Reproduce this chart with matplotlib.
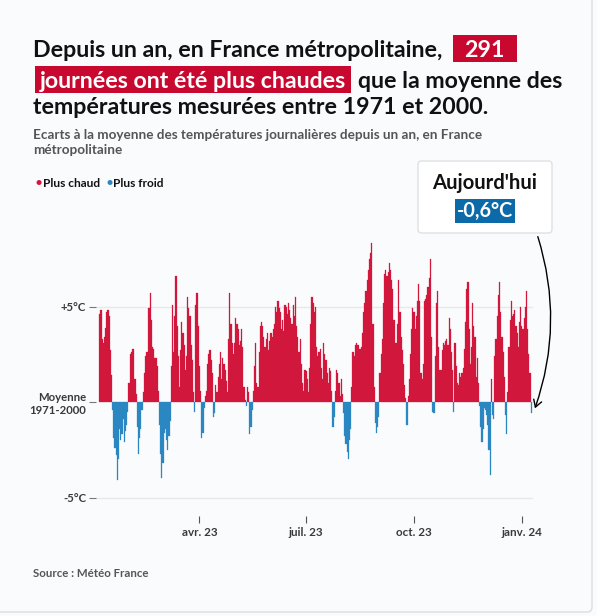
import pandas as pd
import matplotlib.pyplot as plt
import matplotlib.dates as mdates
from matplotlib.patches import FancyBboxPatch, FancyArrowPatch, Rectangle

# daily anomalies (degC vs 1971-2000 mean), in date order
janFeb = [4.6, 4.8, 3.3, 3.1, 3.4, 3.9, 4.7, 4.8, 4.5, 2.7, 1.4,
          -0.4, -1.9, -2.4, -2.8, -4.1, -3.0, -1.4, -2.0, -1.7, -0.9, -2.1, -1.5, -1.2, -0.5,
          1.0, 2.5, 2.6, 2.8, 2.8, 1.2, 0.4,
          -1.3, -2.7, -1.9, -1.4, -0.4,
          0.5, 1.5, 2.4, 2.6, 2.6, 4.9, 5.7, 4.3, 2.9, 2.8, 2.3, 2.3, 1.9, 0.6,
          -1.2, -2.7, -4.0, -3.2, -1.6, -1.4, -2.0, -2.5, -1.8, -1.0]
marMay = [1.9, 5.1, 2.6, 4.5, 6.6, 4.0, 2.4, 0.8, 2.7, 4.2, 3.6, 3.0, 1.7, 2.4, 5.5, 4.9,
          4.5, 3.0, 2.2, 0.5, -0.5, 5.1, 5.7, 4.0, 1.9, 0.6, -1.9, -1.6, -0.3, 0.3, 0.6,
          2.0, 2.5, 2.7, 2.2, 1.5, -0.8, -0.6, 0.9, 0.5, 1.3, 2.0, 2.6, 1.2, 2.3, 2.0, 1.7,
          1.1, 0.5, 3.3, 5.7, 4.1, 3.1, 2.5, 3.1, 4.4, 4.1, 3.8, 3.0, 3.2, 3.8, 2.9]
mayJul = [0.8, 0.1, -0.2, 0.8, 0.5, -1.7, -1.3, -0.4, 0.6, 1.9, 3.1, 1.0, 0.8, 2.6, 4.0,
          4.2, 4.0, 3.4, 2.9, 3.3, 3.6, 2.7, 3.2, 3.6, 3.4, 3.8, 4.1, 5.0, 4.7, 5.3, 4.9,
          4.7, 3.8, 4.3, 3.7, 5.1, 5.0, 4.6, 5.2, 4.8, 4.4, 4.1, 5.1, 4.5, 5.5, 4.0, 3.4,
          2.6, 3.3, 2.0, 1.0, 0.6, 1.7, 1.6, 1.2, 0.5, 1.8, 4.1, 5.5, 5.2, 4.7, 5.0]
julSep = [2.9, 2.4, 2.6, 2.8, 1.8, 1.2, 3.1, 2.5, 2.2, 1.5, 1.0, 1.8, 1.6, 0.6, -1.3,
          -0.8, 0.6, 1.7, 1.5, 1.0, 0.3, 1.2, 0.4, -0.6, -1.8, -2.2, -2.6, -3.0, -2.0,
          -1.4, 0.8, 2.6, 2.4, 3.0, 3.1, 3.0, 3.0, 2.8, 2.9, 3.6, 4.7, 5.2, 5.8, 6.4, 6.9,
          7.5, 7.8, 8.3, 4.1, 0.8, -1.1, -1.6, -1.3, -0.8, 1.5, 2.5, 3.3, 5.2, 6.7, 6.9,
          6.6, 6.8]
sepNov = [7.3, 6.9, 6.4, 5.9, 4.3, 3.1, 3.1, 4.1, 6.4, 4.7, 3.4, 2.7, 2.0, 0.9, 0.2,
          -1.2, 0.3, 1.2, 2.5, 3.8, 4.9, 4.7, 3.8, 4.5, 5.3, 6.2, 5.3, 1.5, 1.2, 2.0, 5.3,
          5.4, 5.6, 6.0, 6.5, 7.5, 3.4, -0.5, -0.6, 2.4, 5.2, 5.8, 2.9, 1.7, 1.7, 2.7, 3.1,
          3.0, 3.2, 3.3, 3.0, 4.4, 3.8, 2.6, 1.7, -0.5, 3.1, 1.9, 1.0, 0.9, 1.5, 1.3]
novJan = [1.5, 1.8, 2.8, 4.2, 5.9, 6.3, 3.8, 2.0, 2.9, 5.2, 4.0, 3.4, 1.3, 2.3, 1.0,
          -0.2, -1.3, -2.1, -1.4, -0.3, -0.4, -0.7, -1.2, -2.5, -3.8, 1.2, -0.7, -0.9,
          2.4, 3.3, 4.5, 5.6, 6.3, 4.7, 3.4, 2.6, 1.3, -0.7, -1.7, 0.5, 2.9, 4.3, 5.3,
          4.5, 4.6, 4.8, 4.0, 3.6, 2.9, 4.2, 5.0, 4.0, 3.8, 4.4, 5.0, 5.8, 3.8, 2.5, 1.5,
          -0.6]

lastDay = "2024-01-09"
tickDates = ["2023-04-01", "2023-07-01", "2023-10-01", "2024-01-01"]
tickNames = ["avr. 23", "juil. 23", "oct. 23", "janv. 24"]
yTicks = [5, 0, -5]
yNames = ["+5°C", "Moyenne\n1971-2000", "-5°C"]

RED = "#d2173d"
HILITE = "#c8082f"
BLUE = "#2a87c1"
BOXBLUE = "#0b6aa7"
GREY = "#555555"
BG = "#fafbfd"
W, H = 597, 616


def px(x, y):
    # pixel position (from top-left) to figure fraction
    return x / W, 1 - y / H


def fitSize(fig, r, txt, target, base=10):
    # font size so that txt is about target px wide
    t = fig.text(0, 0, txt, fontsize=base, fontweight="bold")
    w = t.get_window_extent(renderer=r).width
    t.remove()
    return base * target / w


def main():
    vals = janFeb + marMay + mayJul + julSep + sepNov + novJan
    days = pd.date_range(end=lastDay, periods=len(vals), freq="D")
    s = pd.Series(vals, index=days)

    plt.rcParams['font.family'] = ['Lato', 'DejaVu Sans']
    fig = plt.figure(figsize=(W / 100, H / 100), dpi=100, facecolor=BG)
    r = fig.canvas.get_renderer()

    # card outline
    fig.patches.append(FancyBboxPatch(px(-20, 612), (592 + 20) / W, (612 + 20) / H,
                                      boxstyle="round,pad=0,rounding_size=0.008",
                                      transform=fig.transFigure, fc=BG, ec="#dcdde3",
                                      lw=1, zorder=-5))

    left, right, top, bottom = 96, 533, 230, 516
    ax = fig.add_axes([left / W, 1 - bottom / H, (right - left) / W, (bottom - top) / H])
    ax.set_facecolor("none")

    colors = [RED if v > 0 else BLUE for v in s.values]
    ax.bar(s.index, s.values, width=1.0, color=colors, edgecolor=colors,
           linewidth=0.2, zorder=3)

    x0 = mdates.date2num(s.index[0]) - 3.2
    x1 = mdates.date2num(s.index[-1]) + 1.5
    ax.set_xlim(x0, x1)
    ax.set_ylim(-(bottom - 402) / 19.1, (402 - top) / 19.1)

    for v in (5, -5):
        ax.axhline(v, color="#e7e8ec", lw=1, zorder=1)

    for sp in ax.spines.values():
        sp.set_visible(False)

    ax.set_yticks(yTicks, yNames)
    ax.tick_params(axis="y", length=5, width=0.8, color="#777777", pad=2,
                   labelsize=8.2, labelcolor="#3a3a3a")
    for lab in ax.get_yticklabels():
        lab.set_fontweight("bold")
        lab.set_multialignment("right")

    ax.set_xticks(pd.to_datetime(tickDates), tickNames)
    ax.tick_params(axis="x", length=5, width=0.8, color="#555555", pad=3,
                   labelsize=8.4, labelcolor="#3a3a3a")
    for lab in ax.get_xticklabels():
        lab.set_fontweight("bold")

    # title with highlighted words (red boxes drawn behind the text)
    line1 = "Depuis un an, en France métropolitaine,"
    tsize = fitSize(fig, r, line1, 411)

    def piece(x, y, txt, hi=None):
        t = fig.text(x / W, 1 - y / H, txt, fontsize=tsize, fontweight="bold",
                     va="baseline", ha="left", color="white" if hi else "#111111", zorder=3)
        bb = t.get_window_extent(renderer=r)
        if hi:
            padL, padR = hi
            x0p, x1p = bb.x0 - padL, bb.x1 + padR
            fig.patches.append(Rectangle((x0p / W, 1 - (y + 5) / H), (x1p - x0p) / W, 27 / H,
                                         transform=fig.transFigure, fc=HILITE, ec="none",
                                         zorder=2))
            return x1p
        return bb.x1

    xe = piece(33, 57, line1)
    piece(xe + 22, 57, "291", hi=(11, 12))
    xe = piece(40, 88, "journées ont été plus chaudes", hi=(5, 5))
    piece(xe + 7, 88, "que la moyenne des")
    piece(33, 114, "températures mesurées entre 1971 et 2000.")

    sub1 = "Ecarts à la moyenne des températures journalières depuis un an, en France"
    ssize = fitSize(fig, r, sub1, 450)
    fig.text(33 / W, 1 - 129 / H, sub1 + "\nmétropolitaine",
             fontsize=ssize, fontweight="bold", color=GREY, va="top", linespacing=1.25)

    # legend
    fig.text(35 / W, 1 - 187 / H, "•", color=RED, fontsize=10, va="baseline")
    fig.text(43 / W, 1 - 187 / H, "Plus chaud", color="#111111", fontsize=8.6,
             fontweight="bold", va="baseline")
    fig.text(105 / W, 1 - 187 / H, "•", color=BLUE, fontsize=10, va="baseline")
    fig.text(113 / W, 1 - 187 / H, "Plus froid", color="#111111", fontsize=8.6,
             fontweight="bold", va="baseline")

    # "today" box
    bx, by = px(418, 233)
    fig.patches.append(FancyBboxPatch((bx, by), (552 - 418) / W, (233 - 161) / H,
                                      boxstyle="round,pad=0,rounding_size=0.006",
                                      transform=fig.transFigure, fc="white", ec="#dfe0e4",
                                      lw=1, zorder=5))
    fig.text(485 / W, 1 - 183 / H, "Aujourd'hui", fontsize=14.6, fontweight="bold",
             color="#111111", ha="center", va="center", zorder=6)
    fig.text(485 / W, 1 - 211 / H, "-0,6°C", fontsize=14.2, fontweight="bold",
             color="white", ha="center", va="center", zorder=6,
             bbox=dict(boxstyle="square,pad=0.1", fc=BOXBLUE, ec="none"))

    arr = FancyArrowPatch(px(537, 234), px(534, 411), transform=fig.transFigure,
                          connectionstyle="arc3,rad=-0.17", arrowstyle="->,head_length=5,head_width=3",
                          color="black", lw=1, zorder=6)
    fig.patches.append(arr)

    fig.text(33 / W, 1 - 577 / H, "Source : Météo France", fontsize=8.3,
             fontweight="bold", color=GREY, va="baseline")

    fig.savefig("out.png", dpi=100, facecolor=BG)


if __name__ == "__main__":
    main()
